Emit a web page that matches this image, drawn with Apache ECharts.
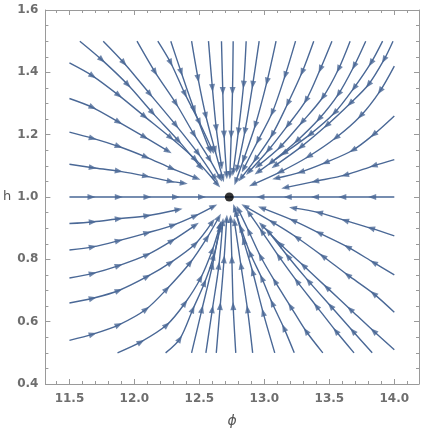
<!DOCTYPE html>
<html>
<head>
<meta charset="utf-8">
<script src="https://cdn.jsdelivr.net/npm/echarts@6/dist/echarts.min.js"></script>
<style>
  html, body { margin: 0; padding: 0; background: #fff; }
  #main { width: 421px; height: 438px; }
</style>
</head>
<body>
<div id="main"></div>
<script>
// streamlines, each as [phi, h] points from start toward the node
const leftUpperLines = [
  [[11.5, 1.105], [11.68, 1.094], [11.88, 1.083], [12.09, 1.067], [12.28, 1.05], [12.38, 1.044]],
  [[11.5, 1.208], [11.68, 1.188], [11.88, 1.162], [12.09, 1.128], [12.29, 1.091], [12.48, 1.06]],
  [[11.5, 1.316], [11.68, 1.287], [11.88, 1.24], [12.08, 1.192], [12.26, 1.147]],
  [[11.5, 1.43], [11.68, 1.388], [11.88, 1.326], [12.08, 1.258], [12.28, 1.19], [12.47, 1.12], [12.64, 1.04]]
];
const topLeftLines = [
  [[11.58, 1.5], [11.75, 1.44], [11.95, 1.36], [12.14, 1.27], [12.34, 1.18], [12.51, 1.095]],
  [[11.76, 1.5], [11.92, 1.43], [12.12, 1.33], [12.32, 1.23], [12.49, 1.14], [12.62, 1.06]],
  [[12.02, 1.5], [12.16, 1.40], [12.32, 1.30], [12.46, 1.20], [12.58, 1.12], [12.66, 1.06]],
  [[12.18, 1.5], [12.28, 1.43], [12.39, 1.33], [12.50, 1.24], [12.60, 1.15]],
  [[12.28, 1.5], [12.36, 1.40], [12.46, 1.28], [12.58, 1.15]],
  [[12.44, 1.5], [12.49, 1.38], [12.55, 1.26], [12.62, 1.15], [12.68, 1.06]],
  [[12.57, 1.5], [12.60, 1.35], [12.63, 1.22], [12.67, 1.10]],
  [[12.67, 1.5], [12.68, 1.34], [12.69, 1.20], [12.71, 1.07]]
];
const topRightLines = [
  [[12.76, 1.5], [12.755, 1.34], [12.745, 1.20], [12.735, 1.07]],
  [[12.86, 1.5], [12.84, 1.36], [12.80, 1.21], [12.76, 1.08]],
  [[12.96, 1.5], [12.91, 1.36], [12.85, 1.21], [12.79, 1.09]],
  [[13.09, 1.5], [13.02, 1.37], [12.93, 1.23], [12.84, 1.12], [12.78, 1.05]],
  [[13.24, 1.5], [13.16, 1.39], [13.06, 1.27], [12.95, 1.18], [12.84, 1.09]],
  [[13.38, 1.5], [13.29, 1.40], [13.18, 1.30], [13.06, 1.20], [12.93, 1.12], [12.82, 1.06]],
  [[13.52, 1.5], [13.43, 1.41], [13.32, 1.31], [13.18, 1.23], [13.03, 1.15], [12.88, 1.08]],
  [[13.66, 1.5], [13.57, 1.41], [13.45, 1.32], [13.29, 1.24], [13.12, 1.16], [12.95, 1.10]],
  [[13.78, 1.5], [13.69, 1.42], [13.57, 1.33], [13.42, 1.25], [13.25, 1.18], [13.05, 1.11]],
  [[13.91, 1.5], [13.82, 1.43], [13.69, 1.35], [13.54, 1.27], [13.35, 1.20], [13.15, 1.14], [12.95, 1.08]],
  [[13.99, 1.5], [13.92, 1.44], [13.80, 1.36], [13.66, 1.30], [13.48, 1.23], [13.28, 1.16], [13.08, 1.10]]
];
const rightUpperLines = [
  [[14.0, 1.42], [13.89, 1.34], [13.74, 1.26], [13.55, 1.19], [13.34, 1.13], [13.12, 1.08], [12.91, 1.04]],
  [[14.0, 1.26], [13.84, 1.20], [13.68, 1.15], [13.47, 1.11], [13.28, 1.08], [13.09, 1.06]],
  [[14.0, 1.12], [13.84, 1.10], [13.62, 1.07], [13.39, 1.05], [13.16, 1.03]]
];
const rightLowerLines = [
  [[14.0, 0.875], [13.82, 0.90], [13.62, 0.925], [13.42, 0.95], [13.22, 0.965]],
  [[14.0, 0.75], [13.84, 0.79], [13.64, 0.84], [13.42, 0.885], [13.22, 0.925], [12.98, 0.965]],
  [[14.0, 0.63], [13.84, 0.69], [13.64, 0.75], [13.45, 0.81], [13.25, 0.87], [13.06, 0.92], [12.85, 0.97]],
  [[14.0, 0.51], [13.84, 0.57], [13.66, 0.64], [13.48, 0.71], [13.30, 0.78], [13.12, 0.85], [12.98, 0.91]]
];
const bottomRightLines = [
  [[13.83, 0.5], [13.68, 0.57], [13.51, 0.65], [13.34, 0.73], [13.18, 0.81], [13.03, 0.89]],
  [[13.69, 0.5], [13.55, 0.57], [13.40, 0.65], [13.25, 0.73], [13.11, 0.81], [12.98, 0.89], [12.88, 0.95]],
  [[13.45, 0.5], [13.32, 0.57], [13.20, 0.65], [13.08, 0.73], [12.97, 0.81], [12.88, 0.89], [12.80, 0.96]],
  [[13.23, 0.5], [13.15, 0.58], [13.06, 0.66], [12.98, 0.74], [12.89, 0.82], [12.82, 0.90], [12.77, 0.965]],
  [[13.08, 0.5], [12.99, 0.63], [12.91, 0.76], [12.84, 0.86], [12.78, 0.95]],
  [[12.91, 0.5], [12.87, 0.64], [12.82, 0.78], [12.77, 0.92]],
  [[12.78, 0.5], [12.76, 0.65], [12.75, 0.80], [12.74, 0.93]]
];
const leftLowerLines = [
  [[11.5, 0.915], [11.68, 0.92], [11.88, 0.93], [12.10, 0.94], [12.34, 0.96]],
  [[11.5, 0.83], [11.68, 0.84], [11.88, 0.86], [12.10, 0.885], [12.30, 0.91], [12.47, 0.94], [12.61, 0.97]],
  [[11.5, 0.74], [11.68, 0.755], [11.88, 0.78], [12.10, 0.815], [12.29, 0.86], [12.47, 0.91]],
  [[11.5, 0.66], [11.68, 0.675], [11.88, 0.70], [12.10, 0.745], [12.28, 0.79], [12.47, 0.85], [12.60, 0.92]],
  [[11.5, 0.54], [11.68, 0.56], [11.88, 0.59], [12.09, 0.64], [12.25, 0.705], [12.43, 0.79], [12.56, 0.87], [12.65, 0.935]]
];
const bottomLeftLines = [
  [[11.87, 0.5], [12.05, 0.535], [12.25, 0.59], [12.39, 0.66], [12.51, 0.74], [12.60, 0.83], [12.66, 0.91]],
  [[12.24, 0.5], [12.35, 0.545], [12.45, 0.64], [12.54, 0.725], [12.61, 0.81], [12.66, 0.90]],
  [[12.44, 0.5], [12.52, 0.64], [12.60, 0.78], [12.66, 0.91]],
  [[12.55, 0.5], [12.60, 0.64], [12.65, 0.78], [12.68, 0.92]],
  [[12.63, 0.5], [12.66, 0.65], [12.69, 0.80], [12.71, 0.93]]
];
// the h = 1 line, run into the node from both sides
const axisLines = [
  [[11.5, 1], [11.67, 1], [11.88, 1], [12.1, 1], [12.32, 1], [12.52, 1], [12.73, 1]],
  [[14.0, 1], [13.83, 1], [13.6, 1], [13.39, 1], [13.18, 1], [12.97, 1], [12.73, 1]]
];
const nodePoint = [12.73, 1.0];

const phiTicks = [11.5, 12.0, 12.5, 13.0, 13.5, 14.0];
const hTicks = [0.4, 0.6, 0.8, 1.0, 1.2, 1.4, 1.6];

const LINE = '#4a6896';
const FRAME = '#9a9a9a';

const phiMinor = [];
for (let k = 114; k <= 141; k++) phiMinor.push(k / 10);
const hMinor = [];
for (let k = 8; k <= 32; k++) hMinor.push(k / 20);

const xMin = 11.315, xMax = 14.19;

function xAx(pos, ticks, len, withLabel, withLine) {
  return {
    type: 'value', min: xMin, max: xMax, position: pos,
    axisLine: { show: withLine, onZero: false, lineStyle: { color: FRAME, width: 1 } },
    axisTick: { show: true, inside: true, length: len, customValues: ticks, lineStyle: { color: FRAME } },
    axisLabel: withLabel ? {
      customValues: ticks, formatter: v => v.toFixed(1), color: '#6e6e6e',
      fontFamily: 'DejaVu Sans', fontWeight: 'bold', fontSize: 12, margin: 9
    } : { show: false },
    splitLine: { show: false }
  };
}
function yAx(pos, ticks, len, withLabel, withLine) {
  return {
    type: 'value', min: 0.4, max: 1.6, position: pos,
    axisLine: { show: withLine, onZero: false, lineStyle: { color: FRAME, width: 1 } },
    axisTick: { show: true, inside: true, length: len, customValues: ticks, lineStyle: { color: FRAME } },
    axisLabel: withLabel ? {
      customValues: ticks, formatter: v => v.toFixed(1), color: '#6e6e6e',
      fontFamily: 'DejaVu Sans', fontWeight: 'bold', fontSize: 12, margin: 7
    } : { show: false },
    splitLine: { show: false }
  };
}

const xAxes = [
  Object.assign(xAx('bottom', phiTicks, 5, true, true), {
    name: 'ϕ', nameLocation: 'middle', nameGap: 30,
    nameTextStyle: { fontFamily: 'DejaVu Sans', fontStyle: 'italic', fontSize: 14, color: '#555' }
  }),
  xAx('bottom', phiMinor, 3, false, false),
  xAx('top', phiTicks, 5, false, true),
  xAx('top', phiMinor, 3, false, false)
];
const yAxes = [
  Object.assign(yAx('left', hTicks, 5, true, true), {
    name: 'h', nameLocation: 'middle', nameGap: 34, nameRotate: 0,
    nameTextStyle: { fontFamily: 'DejaVu Sans', fontSize: 13, color: '#555' }
  }),
  yAx('left', hMinor, 3, false, false),
  yAx('right', hTicks, 5, false, true),
  yAx('right', hMinor, 3, false, false)
];

const streams = [].concat(leftUpperLines, topLeftLines, topRightLines, rightUpperLines,
  rightLowerLines, bottomRightLines, leftLowerLines, bottomLeftLines);

const lineSeries = streams.concat(axisLines).map(pts => ({
  type: 'line', data: pts, smooth: 0.3, showSymbol: false, silent: true,
  xAxisIndex: 0, yAxisIndex: 0, z: 2,
  lineStyle: { color: LINE, width: 1.4 }
}));

const nodeSeries = {
  type: 'scatter', data: [nodePoint], symbol: 'circle', symbolSize: 9,
  itemStyle: { color: '#000' }, silent: true, z: 5, xAxisIndex: 0, yAxisIndex: 0
};

const chart = echarts.init(document.getElementById('main'));
const baseOption = {
  animation: false,
  grid: { left: 45, right: 2, top: 10, bottom: 54 },
  xAxis: xAxes,
  yAxis: yAxes,
  series: lineSeries.concat([nodeSeries])
};
chart.setOption(baseOption);

// arrowheads at the read points, turned along the line
function arrowItem(pts, i) {
  const a = chart.convertToPixel({ xAxisIndex: 0, yAxisIndex: 0 }, pts[i - 1]);
  const b = chart.convertToPixel({ xAxisIndex: 0, yAxisIndex: 0 }, pts[Math.min(i + 1, pts.length - 1)]);
  const ang = Math.atan2(-(b[1] - a[1]), b[0] - a[0]) * 180 / Math.PI - 90;
  return { value: pts[i], symbolRotate: ang };
}
const arrowData = [];
streams.forEach(pts => {
  for (let i = 1; i < pts.length; i++) arrowData.push(arrowItem(pts, i));
});
axisLines.forEach(pts => {
  for (let i = 1; i < pts.length - 1; i++) arrowData.push(arrowItem(pts, i));
});

const arrowSeries = {
  type: 'scatter', data: arrowData, symbol: 'path://M5,0L10,12L0,12Z',
  symbolSize: [6, 8], itemStyle: { color: LINE }, silent: true, z: 3,
  xAxisIndex: 0, yAxisIndex: 0
};

chart.setOption({ series: lineSeries.concat([arrowSeries, nodeSeries]) });
</script>
</body>
</html>
